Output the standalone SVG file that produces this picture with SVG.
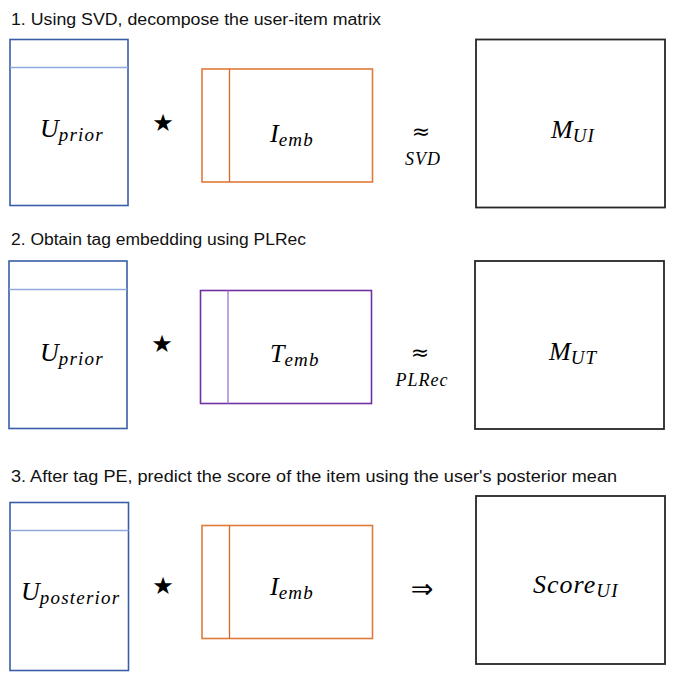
<svg xmlns="http://www.w3.org/2000/svg" width="677" height="680" viewBox="0 0 677 680">
<style>
.bg{fill:#ffffff}
.title{font-family:"Liberation Sans",Arial,sans-serif;font-size:16px;fill:#111}
.ubox{fill:none;stroke:#3A5DA8;stroke-width:1.6}
.uline{stroke:#8EA9DB;stroke-width:1.3}
.obox{fill:none;stroke:#E07A3A;stroke-width:1.6}
.oline{stroke:#D06A2C;stroke-width:1.3}
.pbox{fill:none;stroke:#7030A0;stroke-width:1.6}
.pline{stroke:#A070CC;stroke-width:1.3}
.kbox{fill:none;stroke:#262626;stroke-width:1.8}
.math{font-family:"Liberation Serif","Times New Roman",serif;font-style:italic;font-size:26px;fill:#000}
.sub{font-size:19px;letter-spacing:1.2px}
.op{font-family:"DejaVu Sans",sans-serif;font-size:22px;fill:#000;text-anchor:middle}
.arr{font-family:"DejaVu Sans",sans-serif;font-size:27px;fill:#000;text-anchor:middle}
.opl{font-family:"Liberation Serif",serif;font-style:italic;font-size:18px;fill:#000;text-anchor:middle;letter-spacing:1px}
.star{font-family:"DejaVu Sans",sans-serif;font-size:24px;fill:#000;text-anchor:middle}
</style>
<rect class="bg" x="0" y="0" width="677" height="680"/>

<g id="step1">
  <text class="title" x="11" y="25" textLength="370" lengthAdjust="spacingAndGlyphs">1. Using SVD, decompose the user-item matrix</text>
  <g id="u-prior-1">
    <rect class="ubox" x="10" y="39.5" width="118" height="166"/>
    <line class="uline" x1="10" y1="67.5" x2="128" y2="67.5"/>
    <text class="math" x="40" y="137">U<tspan class="sub" dy="4">prior</tspan></text>
  </g>
  <text class="star" x="163" y="131">★</text>
  <g id="i-emb-1">
    <rect class="obox" x="202" y="69" width="170.5" height="113"/>
    <line class="oline" x1="229.5" y1="69" x2="229.5" y2="182"/>
    <text class="math" x="270" y="142">I<tspan class="sub" dy="4">emb</tspan></text>
  </g>
  <text class="op" x="421" y="139">≈</text>
  <text class="opl" x="423" y="165">SVD</text>
  <g id="m-ui">
    <rect class="kbox" x="476" y="39.5" width="189" height="168"/>
    <text class="math" x="551" y="137.5">M<tspan class="sub" dy="4">UI</tspan></text>
  </g>
</g>

<g id="step2">
  <text class="title" x="11" y="245" textLength="295" lengthAdjust="spacingAndGlyphs">2. Obtain tag embedding using PLRec</text>
  <g id="u-prior-2">
    <rect class="ubox" x="9" y="261" width="118" height="167.5"/>
    <line class="uline" x1="9" y1="289.5" x2="127" y2="289.5"/>
    <text class="math" x="40" y="361">U<tspan class="sub" dy="4">prior</tspan></text>
  </g>
  <text class="star" x="162" y="352">★</text>
  <g id="t-emb">
    <rect class="pbox" x="200.5" y="290.5" width="171" height="113"/>
    <line class="pline" x1="228" y1="290.5" x2="228" y2="403.5"/>
    <text class="math" x="270" y="362">T<tspan class="sub" dy="4">emb</tspan></text>
  </g>
  <text class="op" x="420" y="360">≈</text>
  <text class="opl" x="422" y="386">PLRec</text>
  <g id="m-ut">
    <rect class="kbox" x="475" y="261" width="189" height="168"/>
    <text class="math" x="549" y="360">M<tspan class="sub" dy="4">UT</tspan></text>
  </g>
</g>

<g id="step3">
  <text class="title" x="11" y="482" textLength="606" lengthAdjust="spacingAndGlyphs">3. After tag PE, predict the score of the item using the user's posterior mean</text>
  <g id="u-posterior">
    <rect class="ubox" x="10" y="502.5" width="118.5" height="168"/>
    <line class="uline" x1="10" y1="530.5" x2="128.5" y2="530.5"/>
    <text class="math" x="21" y="600">U<tspan class="sub" dy="4">posterior</tspan></text>
  </g>
  <text class="star" x="163" y="594">★</text>
  <g id="i-emb-3">
    <rect class="obox" x="202" y="525.5" width="170.5" height="113"/>
    <line class="oline" x1="229.5" y1="525.5" x2="229.5" y2="638.5"/>
    <text class="math" x="270" y="595">I<tspan class="sub" dy="4">emb</tspan></text>
  </g>
  <text class="arr" x="422" y="598">⇒</text>
  <g id="score-ui">
    <rect class="kbox" x="476" y="496" width="189" height="168"/>
    <text class="math" x="533" y="593" letter-spacing="1">Score<tspan class="sub" dy="4">UI</tspan></text>
  </g>
</g>
</svg>
